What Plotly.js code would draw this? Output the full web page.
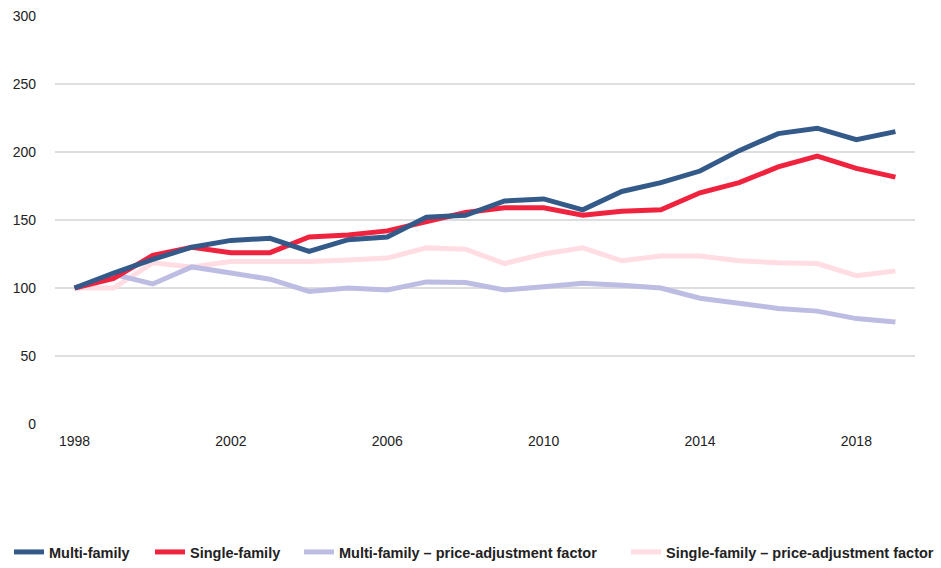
<!DOCTYPE html>
<html>
<head>
<meta charset="utf-8">
<script src="https://cdn.plot.ly/plotly-3.0.1.min.js"></script>
<style>
  html, body { margin: 0; padding: 0; background: #fff; }
  #chart { width: 941px; height: 568px; }
</style>
</head>
<body>
<div id="chart"></div>
<script>
// index values, 1998 = 100
var years = [1998, 1999, 2000, 2001, 2002, 2003, 2004, 2005, 2006, 2007, 2008,
             2009, 2010, 2011, 2012, 2013, 2014, 2015, 2016, 2017, 2018, 2019];
var multiFamily = [100, 111, 121, 130, 135, 136.5, 127, 135.5, 137.5, 152, 153.5,
                   164, 165.5, 157.5, 171, 177.5, 186, 201, 213.5, 217.5, 209, 215];
var singleFamily = [100, 107, 124, 130, 126, 126, 137.5, 139, 142, 149, 155.5,
                    159, 159, 153.5, 156.5, 157.5, 170, 177.5, 189, 197, 188, 181.5];
var multiFamilyAdj = [100, 110, 103, 115.5, 111, 106.5, 97.5, 100, 98.5, 104.5, 104,
                      98.5, 101, 103.5, 102, 100, 92.5, 89, 85, 83, 77.5, 75];
var singleFamilyAdj = [100, 100, 118.5, 115.5, 119.5, 119.5, 119.5, 120.5, 122, 129.5, 128.5,
                       118, 125, 129.5, 120, 123.5, 123.5, 120, 118.5, 118, 109, 112.5];
var seriesNames = ['Multi-family', 'Single-family',
                   'Multi-family \u2013 price-adjustment factor',
                   'Single-family \u2013 price-adjustment factor'];
var yTicks = [0, 50, 100, 150, 200, 250, 300];
var xTicks = [1998, 2002, 2006, 2010, 2014, 2018];

var colors = ['#345a8a', '#f0233f', '#bdbde3', '#ffdde3'];
var seriesData = [multiFamily, singleFamily, multiFamilyAdj, singleFamilyAdj];
// one legend box per series so the entries can be spread across the bottom
var legendIds = ['legend', 'legend2', 'legend3', 'legend4'];
var legendLeft = [9, 150, 299, 626];

var legendFont = { family: 'Liberation Sans, Arial, sans-serif', size: 14.5, color: '#222222', weight: 'bold' };

// light lines first so the dark ones sit on top
var drawOrder = [3, 2, 1, 0];
var data = [];
for (var k = 0; k < drawOrder.length; k++) {
  var i = drawOrder[k];
  data.push({
    x: years,
    y: seriesData[i],
    name: seriesNames[i],
    type: 'scatter',
    mode: 'lines',
    line: { color: colors[i], width: 5 },
    legend: legendIds[i]
  });
}

var layout = {
  width: 941,
  height: 568,
  margin: { l: 55, r: 26, t: 16, b: 144 },
  paper_bgcolor: '#ffffff',
  plot_bgcolor: '#ffffff',
  font: { family: 'Liberation Sans, Arial, sans-serif', size: 14, color: '#222222' },
  showlegend: true,
  xaxis: {
    range: [1997.5, 2019.5],
    tickmode: 'array',
    tickvals: xTicks,
    showgrid: false,
    zeroline: false,
    showline: false,
    ticks: '',
    ticklabelstandoff: 7,
    fixedrange: true
  },
  yaxis: {
    range: [0, 300],
    tickmode: 'array',
    tickvals: yTicks,
    showgrid: true,
    gridcolor: '#dedede',
    gridwidth: 1.5,
    zeroline: false,
    showline: false,
    ticks: '',
    ticklabelstandoff: 18,
    fixedrange: true
  }
};

for (var j = 0; j < legendIds.length; j++) {
  layout[legendIds[j]] = {
    orientation: 'h',
    xref: 'container',
    yref: 'container',
    x: legendLeft[j] / 941,
    xanchor: 'left',
    y: -0.008,
    yanchor: 'bottom',
    itemwidth: 30,
    bgcolor: 'rgba(0,0,0,0)',
    font: legendFont
  };
}

Plotly.newPlot('chart', data, layout, { displayModeBar: false, staticPlot: true });
</script>
</body>
</html>
